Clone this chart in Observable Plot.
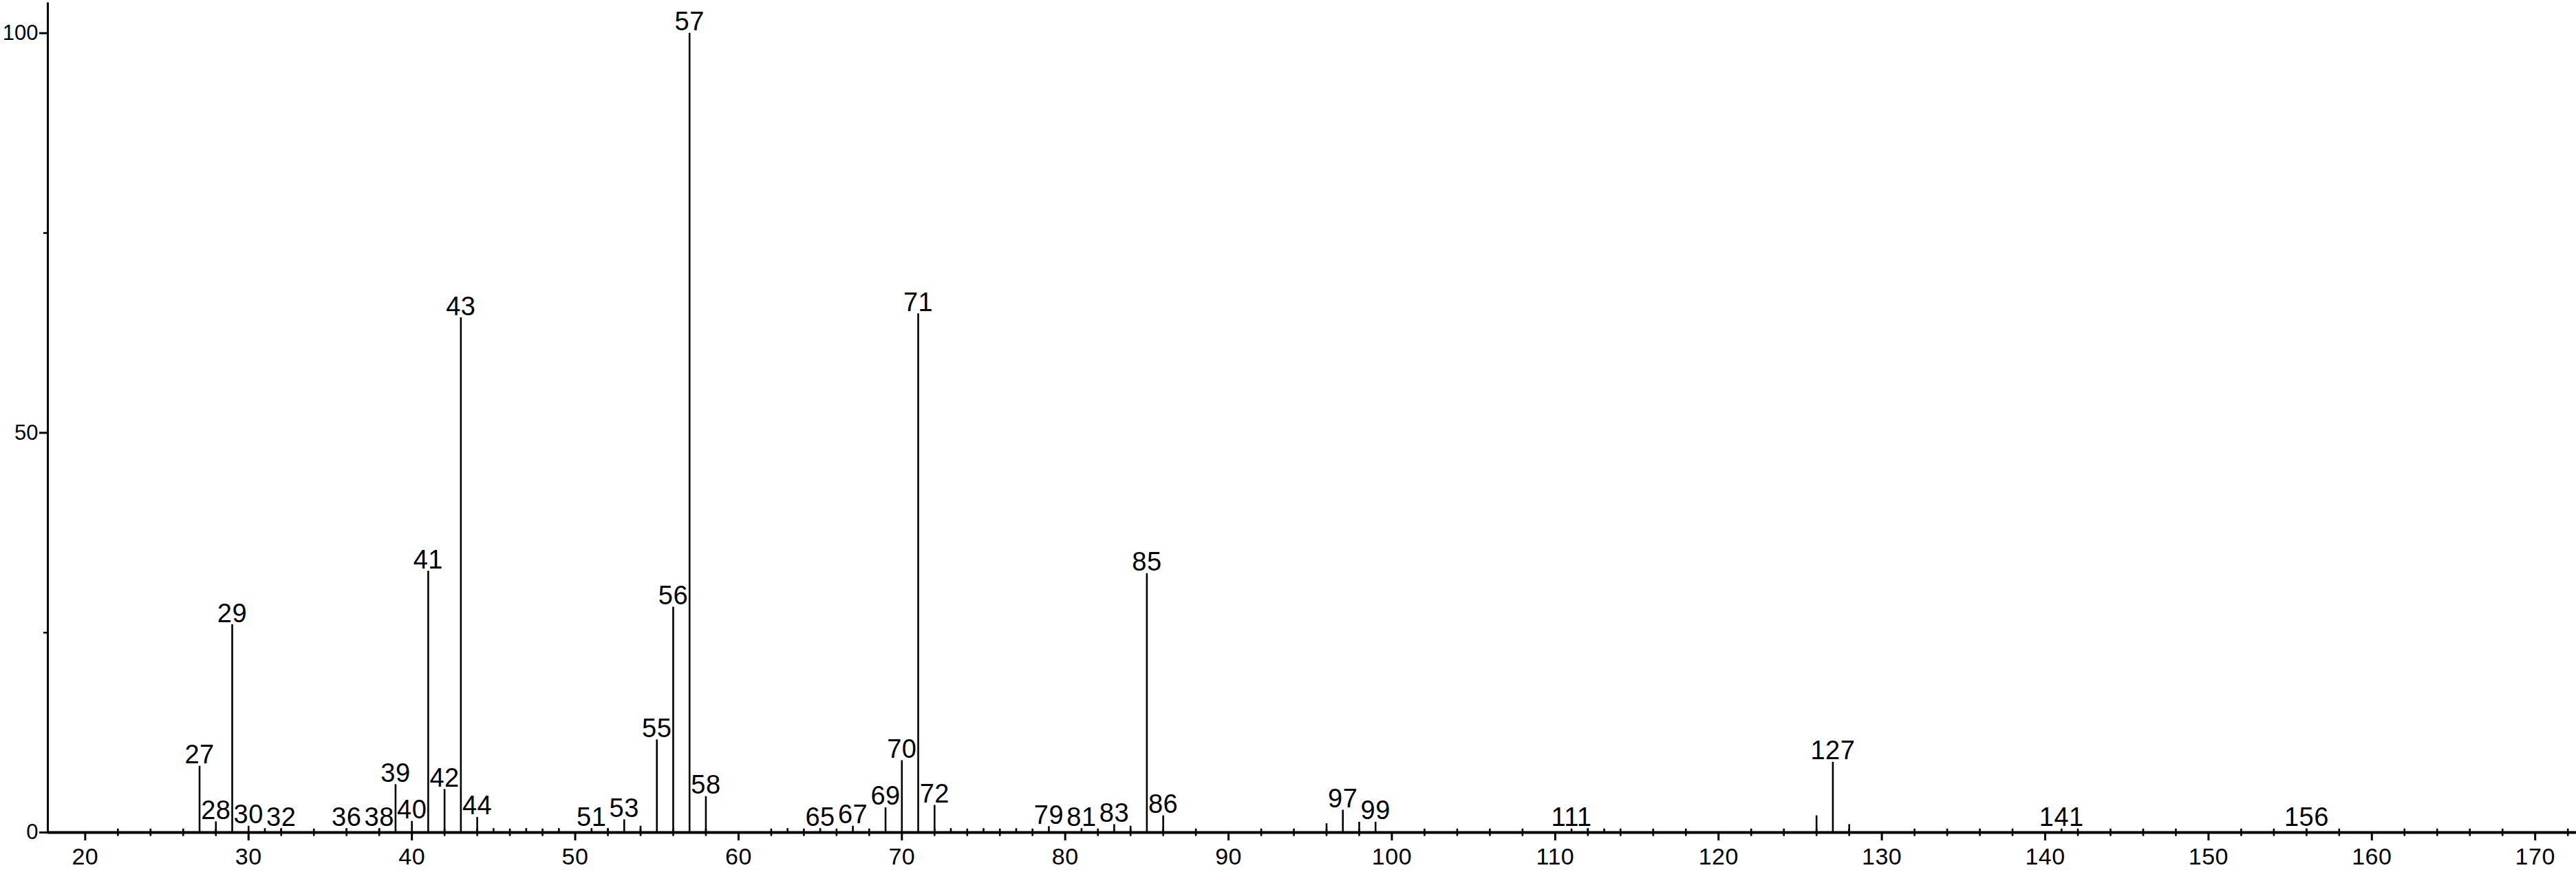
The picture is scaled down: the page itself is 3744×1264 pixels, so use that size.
<!DOCTYPE html>
<html>
<head>
<meta charset="utf-8">
<script src="https://cdn.jsdelivr.net/npm/d3@7"></script>
<script src="https://cdn.jsdelivr.net/npm/@observablehq/plot@0.6"></script>
<style>
  html, body { margin: 0; padding: 0; background: #ffffff; }
  svg { display: block; }
</style>
</head>
<body>
<script>
// m/z values of the peaks
const mz = [27,28,29,30,31,32,36,38,39,40,41,42,43,44,45,47,49,51,52,53,54,55,56,57,58,
            63,65,67,69,70,71,72,73,75,77,79,81,83,84,85,86,96,97,98,99,
            111,112,113,126,127,128,141,156];
// relative intensities (%)
const intensity = [8.3,1.35,26.0,0.8,0.5,0.5,0.5,0.5,6.0,1.4,32.7,5.4,64.4,1.9,0.5,0.5,0.5,0.5,0.5,1.6,0.8,11.6,28.2,100,4.5,
                   0.5,0.5,0.8,3.1,9.0,64.9,3.4,0.5,0.5,0.5,0.75,0.5,1.0,0.8,32.4,2.1,1.1,2.8,1.3,1.3,
                   0.45,0.5,0.45,2.1,8.8,1.0,0.45,0.45];
// peaks carrying a label
const labeled = [27,28,29,30,32,36,38,39,40,41,42,43,44,51,53,55,56,57,58,65,67,69,70,71,72,
                 79,81,83,85,86,97,99,111,127,141,156];
// axis ticks
const xMajorTicks = [20,30,40,50,60,70,80,90,100,110,120,130,140,150,160,170];
const xMinorTicks = d3.range(22, 173, 2).filter(v => v % 10 !== 0);
const yMajorTicks = [0, 50, 100];
const yMinorTicks = [25, 75];

const peaks = mz.map((m, i) => ({mz: m, int: intensity[i]}));
const labelRows = peaks.filter(p => labeled.includes(p.mz));

const font = "'Liberation Sans Narrow', 'Liberation Sans', Arial, sans-serif";
const xMin = 17.71, xMax = 172.52;

const chart = Plot.plot({
  width: 3744,
  height: 1264,
  marginLeft: 69,
  marginRight: 0,
  marginTop: 47.7,
  marginBottom: 55,
  x: {domain: [xMin, xMax]},
  y: {domain: [0, 100]},
  style: {fontFamily: font, background: "#ffffff", color: "#000000"},
  marks: [
    // peaks
    Plot.ruleX(peaks, {x: "mz", y1: 0, y2: "int", stroke: "#000", strokeWidth: 2.6}),
    // x minor ticks crossing the axis
    Plot.ruleX(xMinorTicks, {x: d => d, y1: -0.48, y2: 0.45, stroke: "#000", strokeWidth: 2.6}),
    // axis lines
    Plot.ruleY([0], {stroke: "#000", strokeWidth: 4}),
    Plot.ruleX([xMin], {y1: 0, y2: 103.8, stroke: "#000", strokeWidth: 3}),
    // axes
    Plot.axisX({ticks: xMajorTicks, tickSize: 12, tickPadding: 10, fontSize: 34, label: null, strokeWidth: 3, tickFormat: d => String(d), className: "xax"}),
    Plot.axisY({ticks: yMajorTicks, tickSize: 12, tickPadding: 2, fontSize: 31, label: null, strokeWidth: 3, tickFormat: d => String(d)}),
    Plot.axisY({ticks: yMinorTicks, tickSize: 6, text: null, label: null, strokeWidth: 2.6}),
    // peak labels
    Plot.text(labelRows, {x: "mz", y: "int", text: d => String(d.mz), lineAnchor: "bottom", dy: -4, fontSize: 38, fill: "#000", className: "peaklab"})
  ]
});
chart.querySelectorAll(".peaklab text, .xax text").forEach(t => t.style.letterSpacing = "0.5px");
document.body.appendChild(chart);
</script>
</body>
</html>
